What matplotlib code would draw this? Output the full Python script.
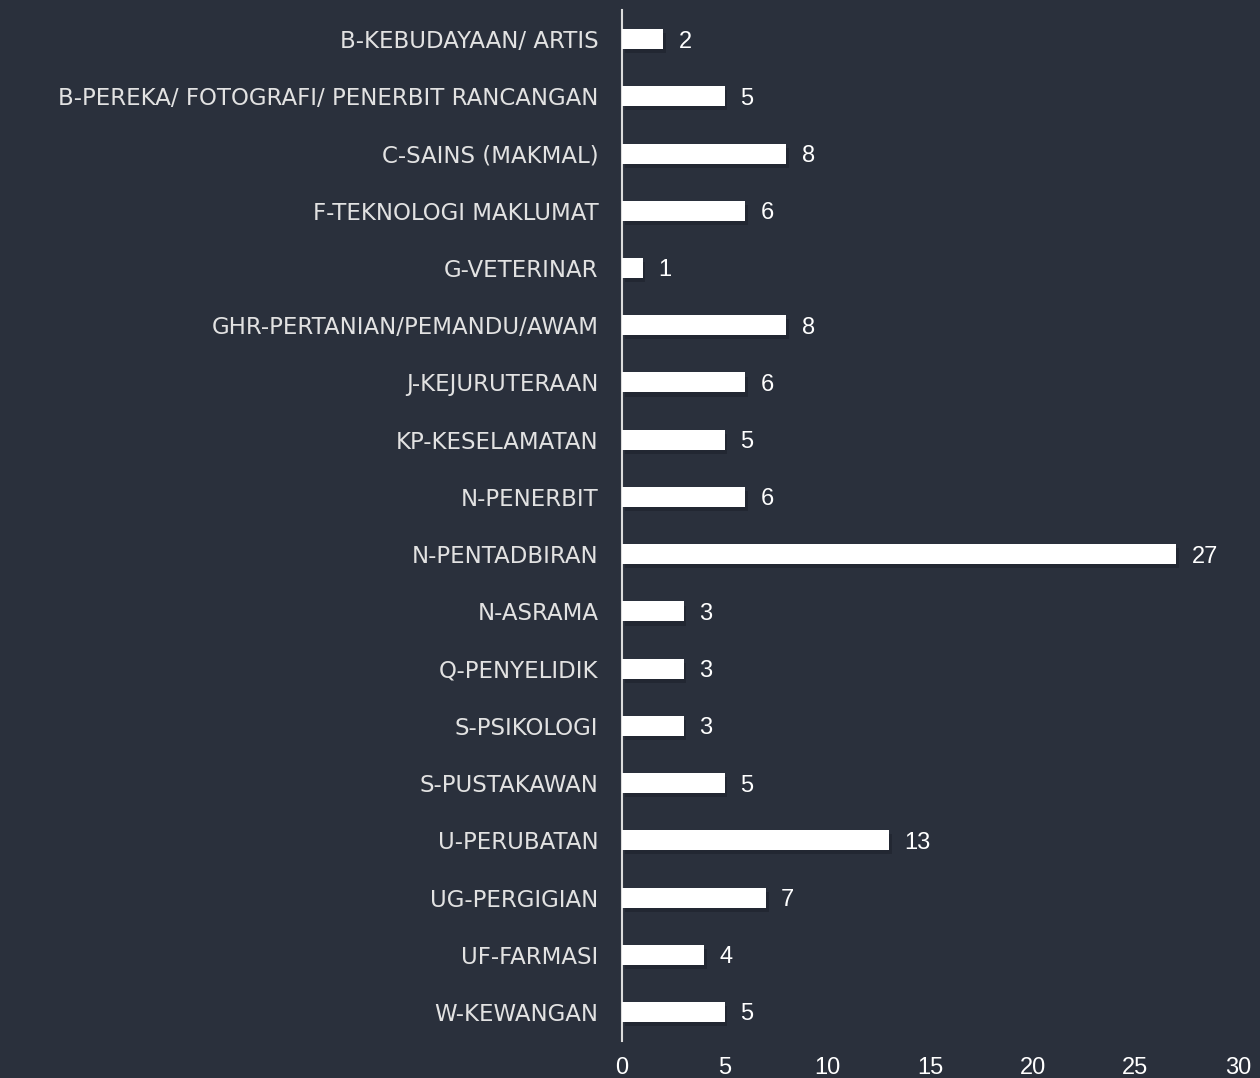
import matplotlib.pyplot as plt
import matplotlib.patheffects as pe

# data
categories = [
    "B-KEBUDAYAAN/ ARTIS",
    "B-PEREKA/ FOTOGRAFI/ PENERBIT RANCANGAN",
    "C-SAINS (MAKMAL)",
    "F-TEKNOLOGI MAKLUMAT",
    "G-VETERINAR",
    "GHR-PERTANIAN/PEMANDU/AWAM",
    "J-KEJURUTERAAN",
    "KP-KESELAMATAN",
    "N-PENERBIT",
    "N-PENTADBIRAN",
    "N-ASRAMA",
    "Q-PENYELIDIK",
    "S-PSIKOLOGI",
    "S-PUSTAKAWAN",
    "U-PERUBATAN",
    "UG-PERGIGIAN",
    "UF-FARMASI",
    "W-KEWANGAN",
]
values = [2, 5, 8, 6, 1, 8, 6, 5, 6, 27, 3, 3, 3, 5, 13, 7, 4, 5]
xticks = [0, 5, 10, 15, 20, 25, 30]

bg = "#2a303c"

fig = plt.figure(figsize=(12.6, 10.78), dpi=100, facecolor=bg)
ax = fig.add_axes([0.4937, 0.0347, 0.4888, 0.9556])
ax.set_facecolor(bg)

ypos = list(range(len(categories)))
bars = ax.barh(ypos, values, height=0.35, color="white", zorder=3)
for b in bars:
    b.set_path_effects([pe.SimplePatchShadow(offset=(2, -3), shadow_rgbFace="#1a1e26", alpha=0.45), pe.Normal()])

for y, v in zip(ypos, values):
    ax.annotate(str(v), (v, y), xytext=(11, 0), textcoords="offset points",
                ha="left", va="center_baseline", color="white", fontsize=17,
                family="Liberation Sans")

ax.set_ylim(len(categories) - 0.5, -0.5)
ax.set_xlim(0, 30)
ax.set_yticks(ypos)
ax.set_yticklabels(categories, family="DejaVu Sans", fontsize=16.5, color="#e2e2e2")
ax.set_xticks(xticks)
ax.set_xticklabels([str(t) for t in xticks], family="Liberation Sans", fontsize=17, color="white")
ax.tick_params(axis="y", length=0, pad=17)
ax.tick_params(axis="x", length=0, pad=12)

for s in ["top", "right", "bottom"]:
    ax.spines[s].set_visible(False)
ax.spines["left"].set_color("#dcdcdc")
ax.spines["left"].set_linewidth(1.5)

fig.savefig("out.png", dpi=100, facecolor=bg)
